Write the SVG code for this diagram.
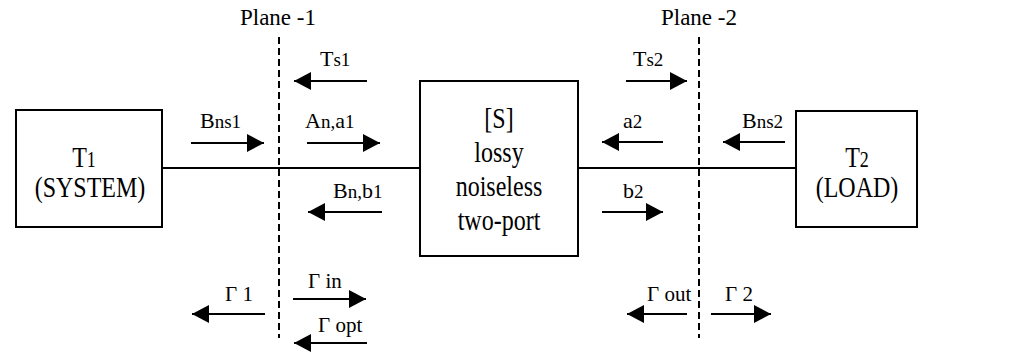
<svg xmlns="http://www.w3.org/2000/svg" width="1029" height="352" viewBox="0 0 1029 352">
<style>
.box{fill:#fff;stroke:#000;stroke-width:2}
.wire{stroke:#000;stroke-width:2;fill:none}
.arr{stroke:#000;stroke-width:2;fill:none;marker-end:url(#ah)}
.plane{stroke:#000;stroke-width:2;stroke-dasharray:7 4;fill:none}
.lbl{font-size:22px}
.sub{font-size:19px}
.g{font-size:21px}
.bt{font-size:24px;text-anchor:middle}
.pt{font-size:23px;text-anchor:middle}
</style>
<defs>
<marker id="ah" markerUnits="userSpaceOnUse" markerWidth="18" markerHeight="18" refX="17" refY="9" orient="auto" viewBox="0 0 18 18">
<path d="M0,0 L17,9 L0,18 Z" fill="#000"/>
</marker>
</defs>
<rect width="1029" height="352" fill="#fff"/>

<g font-family="Liberation Serif, Times New Roman, serif" fill="#000">
<g id="plane1">
<line class="plane" x1="279" y1="37" x2="279" y2="338"/>
<text class="pt" x="278" y="25">Plane -1</text>
</g>
<g id="plane2">
<line class="plane" x1="699" y1="37" x2="699" y2="338"/>
<text class="pt" x="699" y="25">Plane -2</text>
</g>

<g id="connectors">
<line class="wire" x1="162" y1="168" x2="420" y2="168"/>
<line class="wire" x1="578" y1="168" x2="796" y2="168"/>
<line class="arr" x1="367" y1="81" x2="294" y2="81"/>
<line class="arr" x1="191" y1="143" x2="264" y2="143"/>
<line class="arr" x1="307" y1="143" x2="380" y2="143"/>
<line class="arr" x1="382" y1="212" x2="308" y2="212"/>
<line class="arr" x1="626" y1="81" x2="687" y2="81"/>
<line class="arr" x1="663" y1="142" x2="602" y2="142"/>
<line class="arr" x1="785" y1="142" x2="723" y2="142"/>
<line class="arr" x1="602" y1="212" x2="663" y2="212"/>
<line class="arr" x1="265" y1="314" x2="192" y2="314"/>
<line class="arr" x1="293" y1="299" x2="366" y2="299"/>
<line class="arr" x1="367" y1="343" x2="294" y2="343"/>
<line class="arr" x1="687" y1="314" x2="627" y2="314"/>
<line class="arr" x1="711" y1="314" x2="771" y2="314"/>
</g>

<g id="labels">
<text class="lbl" x="320" y="66">T<tspan class="sub">s1</tspan></text>
<text class="lbl" x="200" y="128">B<tspan class="sub">ns1</tspan></text>
<text class="lbl" x="305" y="128">A<tspan class="sub">n,</tspan>a<tspan class="sub">1</tspan></text>
<text class="lbl" x="333" y="198">B<tspan class="sub">n,</tspan>b<tspan class="sub">1</tspan></text>
<text class="lbl" x="633" y="66">T<tspan class="sub">s2</tspan></text>
<text class="lbl" x="623" y="128">a<tspan class="sub">2</tspan></text>
<text class="lbl" x="742" y="128">B<tspan class="sub">ns2</tspan></text>
<text class="lbl" x="623" y="198">b<tspan class="sub">2</tspan></text>
<text class="g" x="225" y="301">Γ 1</text>
<text class="g" x="308" y="288">Γ in</text>
<text class="g" x="318" y="332">Γ opt</text>
<text class="g" x="647" y="301">Γ out</text>
<text class="g" x="725" y="301">Γ 2</text>
</g>

<g id="T1">
<rect class="box" x="16" y="110" width="146" height="117"/>
<text class="bt" transform="translate(84,167) scale(1,1.25)">T<tspan font-size="18">1</tspan></text>
<text class="bt" transform="translate(90,197) scale(1,1.25)">(SYSTEM)</text>
</g>

<g id="S">
<rect class="box" x="420" y="81" width="158" height="175"/>
<text class="bt" transform="translate(499,128) scale(1,1.25)">[S]</text>
<text class="bt" transform="translate(499,162) scale(1,1.25)">lossy</text>
<text class="bt" transform="translate(499,196) scale(1,1.25)">noiseless</text>
<text class="bt" transform="translate(499,230) scale(1,1.25)">two-port</text>
</g>

<g id="T2">
<rect class="box" x="796" y="111" width="121" height="116"/>
<text class="bt" transform="translate(857,167) scale(1,1.25)">T<tspan font-size="18">2</tspan></text>
<text class="bt" transform="translate(857,197) scale(1,1.25)">(LOAD)</text>
</g>
</g>
</svg>
